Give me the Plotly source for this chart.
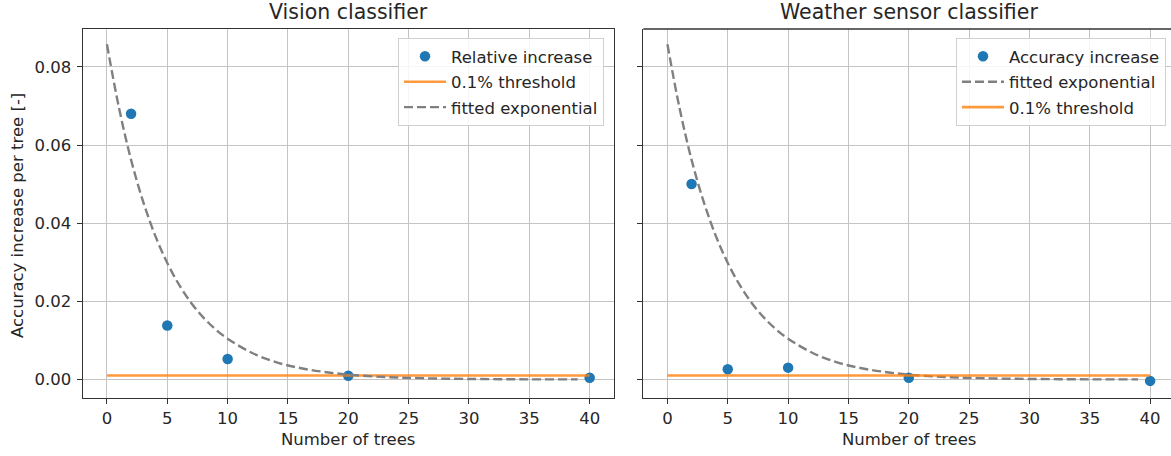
import plotly.graph_objects as go

# ---------------- data ----------------
trees = [2, 5, 10, 20, 40]
vision_increase = [0.068, 0.0138, 0.0052, 0.0009, 0.0004]
weather_increase = [0.050, 0.0026, 0.0030, 0.0004, -0.0004]

threshold_x = [0, 40]
threshold_y = [0.001, 0.001]

fit_x = [0, 1, 2, 3, 4, 5, 6, 7, 8, 9, 10, 12, 14, 16, 18, 20, 23, 26, 30, 35, 39]
fit_y = [0.0858, 0.0695, 0.0562, 0.0455, 0.0368, 0.0298, 0.0241, 0.0195, 0.0158,
         0.0128, 0.0104, 0.0068, 0.0044, 0.0029, 0.0019, 0.0012, 0.0006, 0.0003,
         0.0001, 0.0000, 0.0000]

x_ticks = [0, 5, 10, 15, 20, 25, 30, 35, 40]
y_ticks = [0.00, 0.02, 0.04, 0.06, 0.08]

titles = ["Vision classifier", "Weather sensor classifier"]
x_title = "Number of trees"
y_title = "Accuracy increase per tree [-]"

# ---------------- style ----------------
W, H = 1171, 456
FONT = "DejaVu Sans"
TXT = "#262626"
BLUE = "#1f77b4"
ORANGE = "rgba(255,127,14,0.8)"
GRAY = "#808080"
GRID = "#c4c4c4"
FRAME = "#333333"
FS = 16.5

x1 = [82.8 / W, 613.8 / W]
x2 = [643.3 / W, 1.0]
ydom = [(H - 397.7) / H, (H - 29) / H]
yrange = [-0.0047, 0.0897]

fig = go.Figure()

# left panel
fig.add_trace(go.Scatter(x=trees, y=vision_increase, mode="markers", name="Relative increase",
                         marker=dict(color=BLUE, size=10.5), xaxis="x", yaxis="y",
                         legend="legend", legendgroup="a"))
fig.add_trace(go.Scatter(x=threshold_x, y=threshold_y, mode="lines", name="0.1% threshold",
                         line=dict(color=ORANGE, width=2.6), xaxis="x", yaxis="y",
                         legend="legend", legendgroup="b"))
fig.add_trace(go.Scatter(x=fit_x, y=fit_y, mode="lines", name="fitted exponential",
                         line=dict(color=GRAY, width=2.4, dash="9px,4px", shape="spline"),
                         xaxis="x", yaxis="y", legend="legend", legendgroup="c"))

# right panel
fig.add_trace(go.Scatter(x=trees, y=weather_increase, mode="markers", name="Accuracy increase",
                         marker=dict(color=BLUE, size=10.5), xaxis="x2", yaxis="y2",
                         legend="legend2", legendgroup="d"))
fig.add_trace(go.Scatter(x=fit_x, y=fit_y, mode="lines", name="fitted exponential",
                         line=dict(color=GRAY, width=2.4, dash="9px,4px", shape="spline"),
                         xaxis="x2", yaxis="y2", legend="legend2", legendgroup="e"))
fig.add_trace(go.Scatter(x=threshold_x, y=threshold_y, mode="lines", name="0.1% threshold",
                         line=dict(color=ORANGE, width=2.6), xaxis="x2", yaxis="y2",
                         legend="legend2", legendgroup="f"))

axis_common = dict(showgrid=True, gridcolor=GRID, gridwidth=1, zeroline=False,
                   ticks="outside", ticklen=5, tickwidth=1.2, tickcolor=FRAME,
                   linecolor=FRAME, linewidth=1.3, showline=True,
                   tickfont=dict(family=FONT, size=FS, color=TXT))

legend_common = dict(bgcolor="rgba(255,255,255,0.85)", bordercolor="#d0d0d0", borderwidth=1,
                     font=dict(family=FONT, size=FS, color=TXT), xanchor="right", yanchor="top",
                     tracegroupgap=1, traceorder="grouped", itemwidth=42)

fig.update_layout(
    width=W, height=H,
    margin=dict(l=0, r=0, t=0, b=0, autoexpand=False),
    paper_bgcolor="white", plot_bgcolor="white",
    showlegend=True,
    xaxis=dict(axis_common, domain=x1, range=[-2, 42], tickvals=x_ticks, mirror=True,
               anchor="y"),
    yaxis=dict(axis_common, domain=ydom, range=yrange, tickvals=y_ticks, tickformat=".2f",
               mirror=True, anchor="x", ticklabelstandoff=2),
    xaxis2=dict(axis_common, domain=x2, range=[-2, 41.73], tickvals=x_ticks, anchor="y2"),
    yaxis2=dict(axis_common, domain=ydom, range=yrange, tickvals=y_ticks, showticklabels=False,
                anchor="x2"),
    legend=dict(legend_common, x=604 / W, y=(H - 38) / H),
    legend2=dict(legend_common, x=1166 / W, y=(H - 38) / H),
    shapes=[dict(type="line", xref="x2 domain", yref="paper", x0=0, x1=1,
                 y0=ydom[1], y1=ydom[1], line=dict(color=FRAME, width=1.3))],
)

ann = []
centers = [(82.8 + 613.8) / 2, (643.3 + 1175) / 2]
for t, cx in zip(titles, centers):
    ann.append(dict(text=t, x=cx / W, y=(H - 12) / H, xref="paper", yref="paper",
                    showarrow=False, xanchor="center", yanchor="middle",
                    font=dict(family=FONT, size=20.5, color=TXT)))
    ann.append(dict(text=x_title, x=cx / W, y=(H - 439) / H, xref="paper", yref="paper",
                    showarrow=False, xanchor="center", yanchor="middle",
                    font=dict(family=FONT, size=FS, color=TXT)))
ann.append(dict(text=y_title, x=17 / W, y=(H - 216) / H, xref="paper", yref="paper",
                showarrow=False, xanchor="center", yanchor="middle", textangle=-90,
                font=dict(family=FONT, size=FS, color=TXT)))
fig.update_layout(annotations=ann)

fig.write_html("out.html", post_script="document.body.style.margin='0';",
               config={"displayModeBar": False})
